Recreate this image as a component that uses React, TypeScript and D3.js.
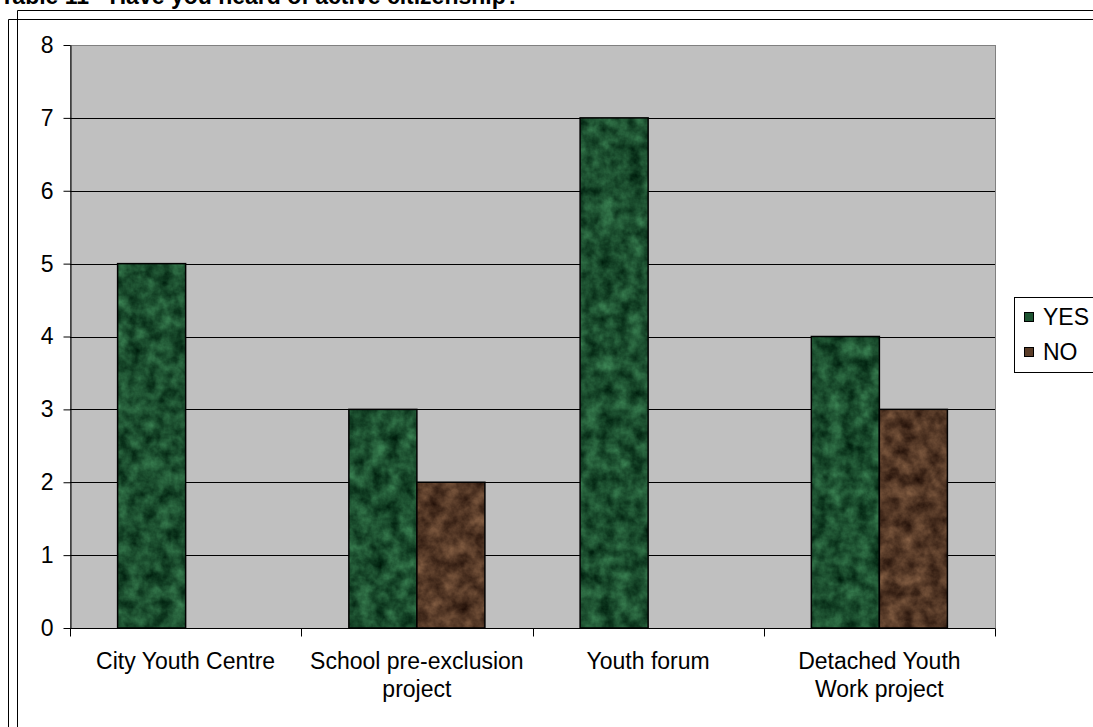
import React, { useEffect, useRef } from 'react';
import * as d3 from 'd3';

const categories = ['City Youth Centre', 'School pre-exclusion project', 'Youth forum', 'Detached Youth Work project'];
const labelLines = [['City Youth Centre'], ['School pre-exclusion', 'project'], ['Youth forum'], ['Detached Youth', 'Work project']];
const seriesNames = ['YES', 'NO'];
const yesValues = [5, 3, 7, 4];
const noValues = [0, 2, 0, 3];
const yTicks = [0, 1, 2, 3, 4, 5, 6, 7, 8];
const title = 'Table 11 - Have you heard of active citizenship?';

const W = 1093;
const H = 727;

export default function App() {
  const svgRef = useRef<SVGSVGElement | null>(null);

  useEffect(() => {
    document.body.style.margin = '0';
    if (!svgRef.current) return;

    const svg = d3.select(svgRef.current);
    svg.selectAll('*').remove();

    const font = 'Arial, "Liberation Sans", sans-serif';
    const fs = 23;
    const plot = { left: 70, top: 45, right: 995, bottom: 628 };

    // marble textures
    const defs = svg.append('defs');
    const marble = (id: string, matrix: string, seed: number) => {
      const f = defs.append('filter')
        .attr('id', id)
        .attr('filterUnits', 'userSpaceOnUse')
        .attr('color-interpolation-filters', 'sRGB')
        .attr('x', 0).attr('y', 0).attr('width', W).attr('height', H);
      f.append('feTurbulence')
        .attr('type', 'fractalNoise')
        .attr('baseFrequency', 0.07)
        .attr('numOctaves', 4)
        .attr('seed', seed)
        .attr('result', 'noise');
      f.append('feColorMatrix')
        .attr('in', 'noise')
        .attr('type', 'matrix')
        .attr('values', matrix)
        .attr('result', 'col');
      f.append('feComposite')
        .attr('in', 'col')
        .attr('in2', 'SourceGraphic')
        .attr('operator', 'in');
    };
    marble('marbleGreen', '0.3 0 0 0 -0.04  0.5 0 0 0 0.06  0.35 0 0 0 0.01  0 0 0 0 1', 3);
    marble('marbleBrown', '0.5 0 0 0 0.08  0.4 0 0 0 0.02  0.3 0 0 0 0.0  0 0 0 0 1', 7);

    // frame lines
    svg.append('line').attr('x1', 17.5).attr('x2', W).attr('y1', 10.5).attr('y2', 10.5).attr('stroke', '#000');
    svg.append('line').attr('x1', 17.5).attr('x2', 17.5).attr('y1', 10.5).attr('y2', H).attr('stroke', '#000');
    svg.append('line').attr('x1', 8.5).attr('x2', W).attr('y1', 19.5).attr('y2', 19.5).attr('stroke', '#000');
    svg.append('line').attr('x1', 8.5).attr('x2', 8.5).attr('y1', 19.5).attr('y2', H).attr('stroke', '#000');

    // title (cut at top, as in the original)
    svg.append('text')
      .attr('x', 0).attr('y', 4)
      .attr('font-family', font).attr('font-weight', 'bold').attr('font-size', 23)
      .text(title);

    const x0 = d3.scaleBand().domain(categories).range([plot.left, plot.right]).paddingInner(0).paddingOuter(0);
    const x1 = d3.scaleBand().domain(seriesNames).range([0, x0.bandwidth()]).paddingOuter(0.7).paddingInner(0);
    const y = d3.scaleLinear().domain([0, 8]).range([plot.bottom, plot.top]);

    // plot background
    svg.append('rect')
      .attr('x', plot.left + 0.5).attr('y', plot.top + 0.5)
      .attr('width', plot.right - plot.left).attr('height', plot.bottom - plot.top)
      .attr('fill', '#C0C0C0').attr('stroke', '#808080');

    // gridlines
    svg.append('g')
      .selectAll('line')
      .data(yTicks.filter(t => t > 0 && t < 8))
      .join('line')
      .attr('x1', plot.left).attr('x2', plot.right)
      .attr('y1', d => Math.round(y(d)) + 0.5).attr('y2', d => Math.round(y(d)) + 0.5)
      .attr('stroke', '#000');

    // bars
    const groups = [
      { name: 'YES', values: yesValues, filter: 'url(#marbleGreen)' },
      { name: 'NO', values: noValues, filter: 'url(#marbleBrown)' },
    ];
    groups.forEach(s => {
      const g = svg.append('g');
      const data = categories.map((c, i) => ({ c, v: s.values[i] })).filter(d => d.v > 0);
      g.selectAll('rect.fill')
        .data(data)
        .join('rect')
        .attr('class', 'fill')
        .attr('x', d => (x0(d.c) as number) + (x1(s.name) as number))
        .attr('y', d => y(d.v))
        .attr('width', x1.bandwidth())
        .attr('height', d => y(0) - y(d.v))
        .attr('fill', '#000')
        .attr('filter', s.filter);
      g.selectAll('rect.edge')
        .data(data)
        .join('rect')
        .attr('class', 'edge')
        .attr('x', d => (x0(d.c) as number) + (x1(s.name) as number))
        .attr('y', d => y(d.v))
        .attr('width', x1.bandwidth())
        .attr('height', d => y(0) - y(d.v))
        .attr('fill', 'none')
        .attr('stroke', '#000')
        .attr('stroke-width', 1.5);
    });

    // Y axis
    const yAxis = svg.append('g')
      .attr('transform', `translate(${plot.left + 0.5},0)`)
      .call(d3.axisLeft(y).tickValues(yTicks).tickSize(7).tickSizeOuter(0).tickPadding(10).tickFormat(d3.format('d')));
    yAxis.select('.domain').attr('stroke', '#000');
    yAxis.selectAll('line').attr('stroke', '#000');
    yAxis.selectAll('text').attr('font-family', font).attr('font-size', fs).attr('fill', '#000');

    // X axis
    const xAxis = svg.append('g')
      .attr('transform', `translate(0,${plot.bottom + 0.5})`);
    xAxis.append('line')
      .attr('x1', plot.left).attr('x2', plot.right)
      .attr('stroke', '#000');
    const edges = [...categories.map(c => x0(c) as number), plot.right];
    xAxis.selectAll('line.tick')
      .data(edges)
      .join('line')
      .attr('class', 'tick')
      .attr('x1', d => Math.round(d) + 0.5).attr('x2', d => Math.round(d) + 0.5)
      .attr('y1', 0).attr('y2', 8)
      .attr('stroke', '#000');
    categories.forEach((c, i) => {
      const cx = (x0(c) as number) + x0.bandwidth() / 2;
      const t = xAxis.append('text')
        .attr('x', cx)
        .attr('y', 40)
        .attr('text-anchor', 'middle')
        .attr('font-family', font).attr('font-size', fs);
      labelLines[i].forEach((ln, j) => {
        t.append('tspan')
          .attr('x', cx)
          .attr('dy', j === 0 ? 0 : 28)
          .text(ln);
      });
    });

    // legend
    const lg = svg.append('g');
    lg.append('rect')
      .attr('x', 1014.5).attr('y', 297.5).attr('width', 100).attr('height', 75)
      .attr('fill', '#fff').attr('stroke', '#000');
    const legendColors = ['#1d5431', '#5a3c28'];
    seriesNames.forEach((n, i) => {
      const cy = 317 + i * 35;
      lg.append('rect')
        .attr('x', 1024.5).attr('y', cy - 4.5).attr('width', 9).attr('height', 9)
        .attr('fill', legendColors[i]).attr('stroke', '#000');
      lg.append('text')
        .attr('x', 1043).attr('y', cy + 8)
        .attr('font-family', font).attr('font-size', fs)
        .text(n);
    });
  }, []);

  return <svg ref={svgRef} width={W} height={H} style={{ display: 'block', background: '#fff' }} />;
}
